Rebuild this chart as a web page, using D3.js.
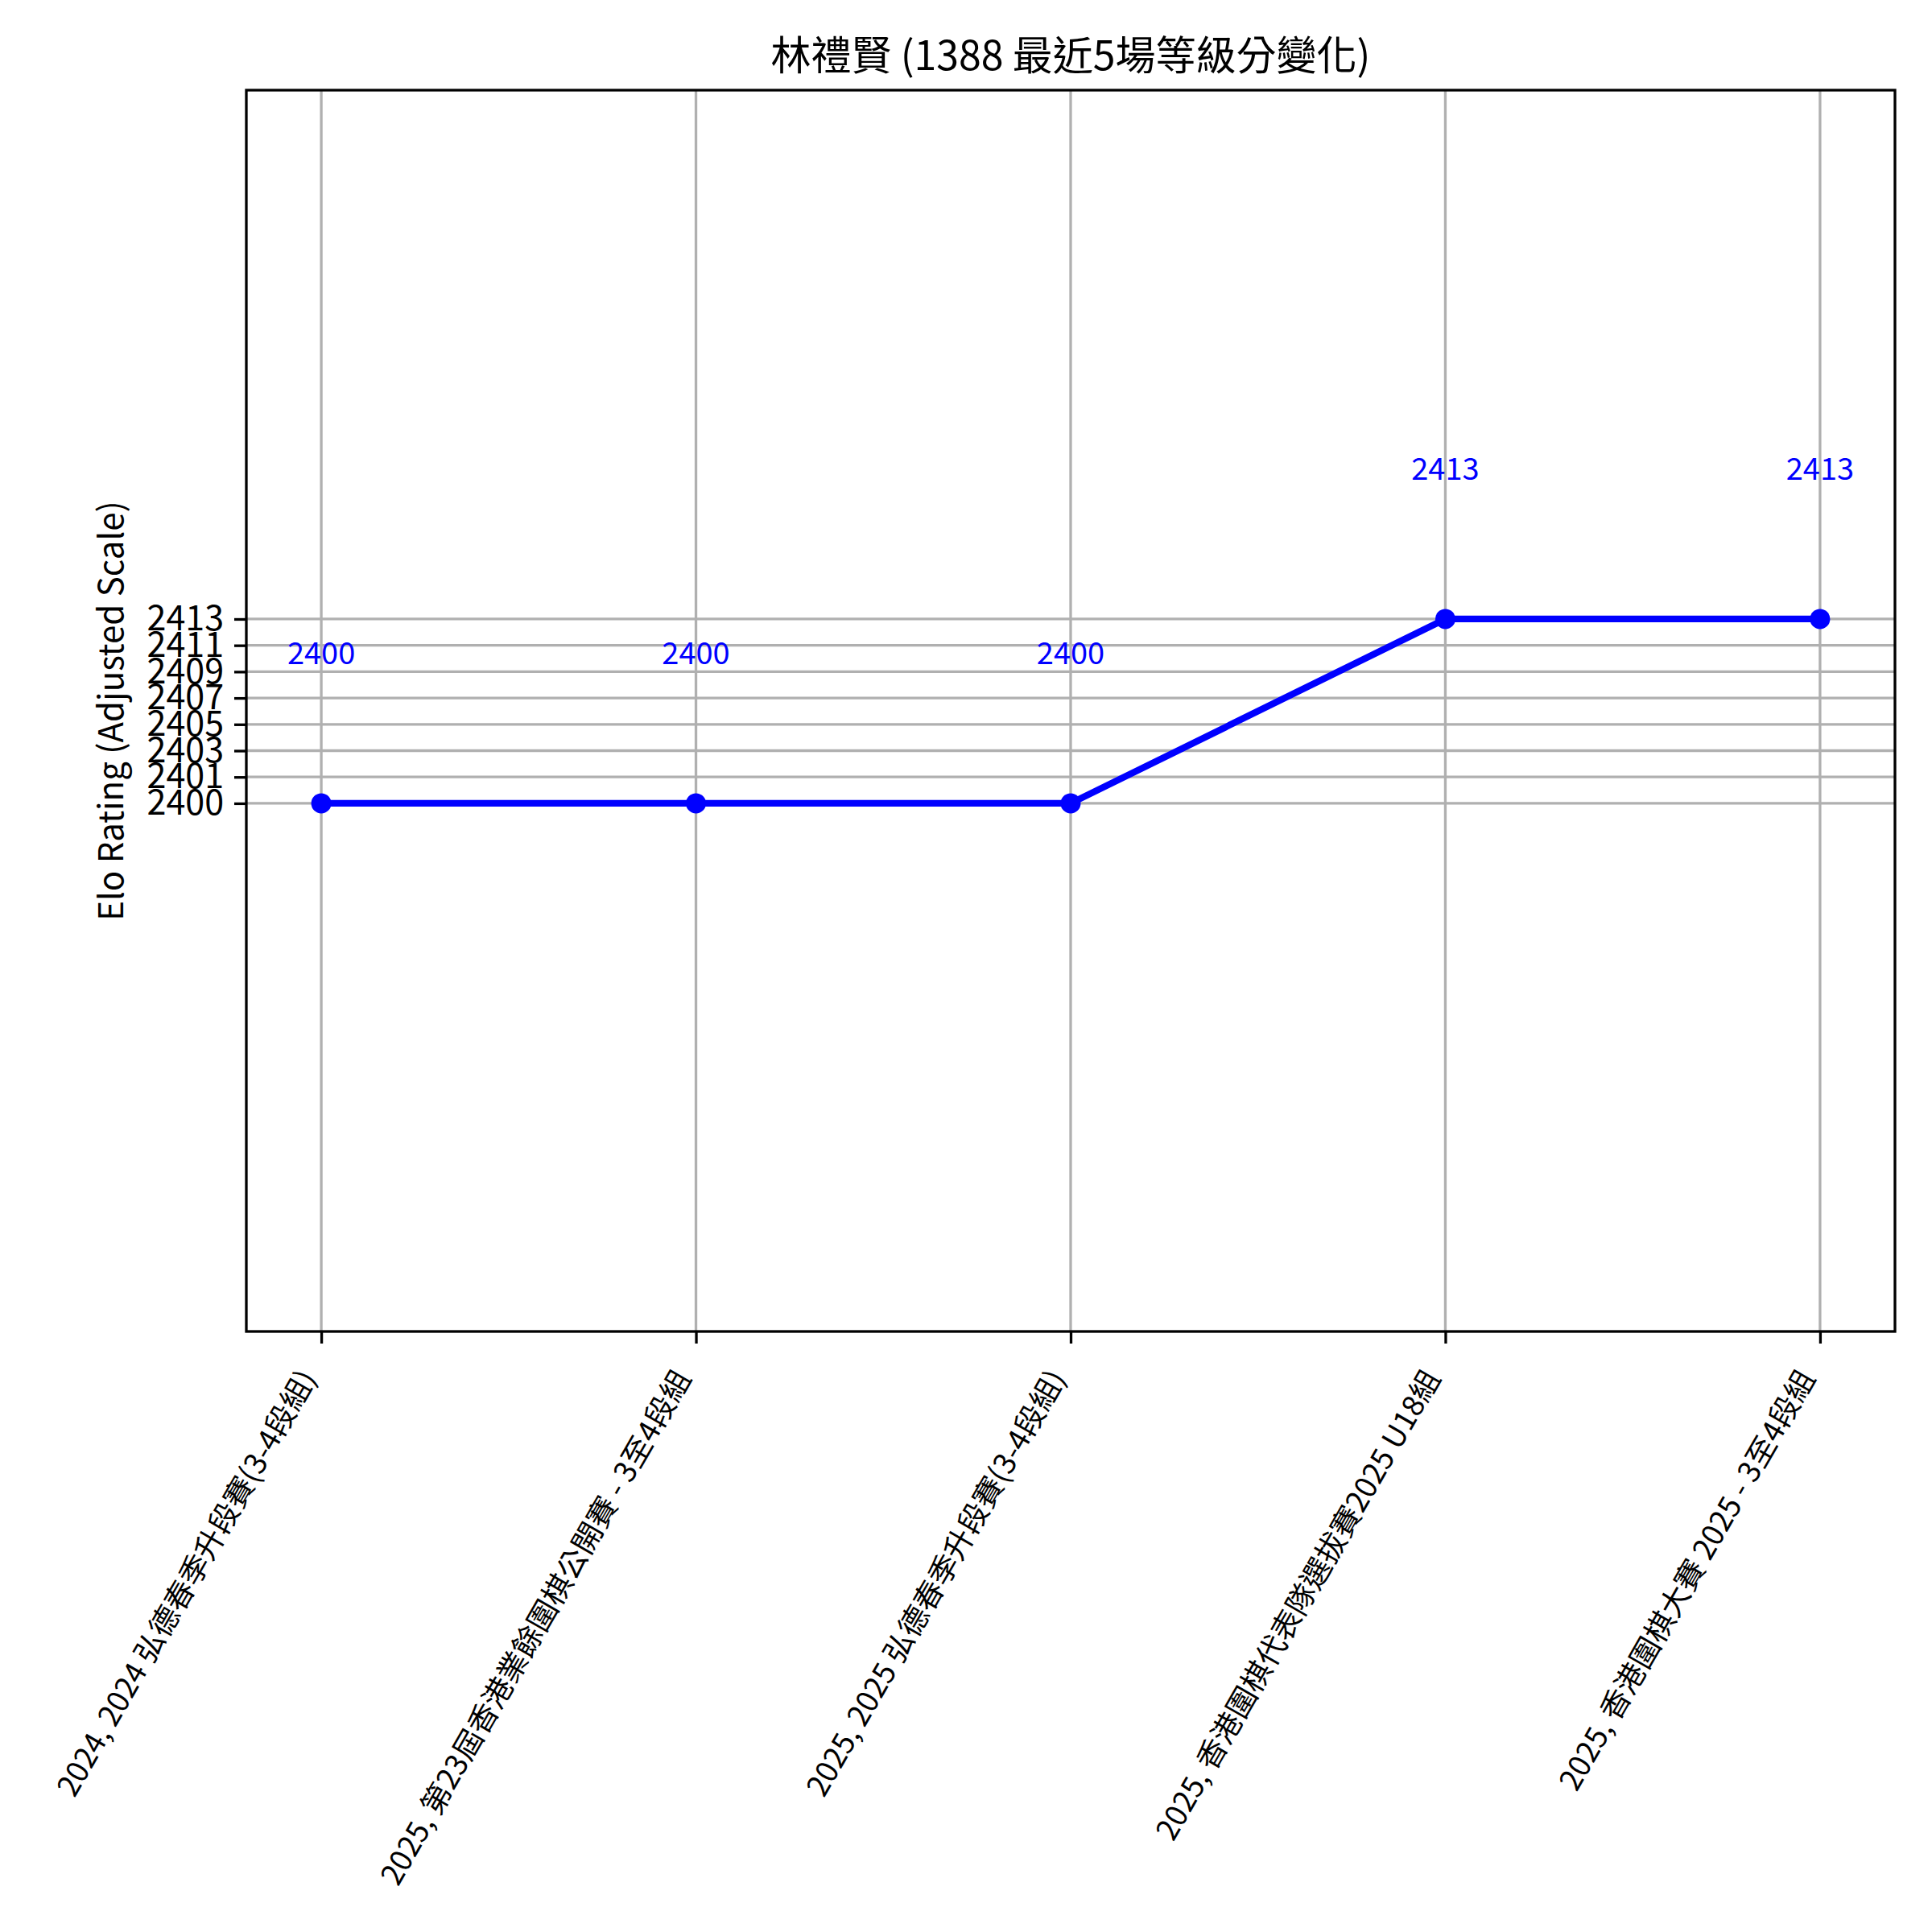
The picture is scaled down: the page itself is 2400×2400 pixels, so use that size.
<!DOCTYPE html>
<html>
<head>
<meta charset="utf-8">
<script src="https://cdn.jsdelivr.net/npm/d3@7"></script>
<style>
  body { margin: 0; background: #fff; }
  text { font-family: "Noto Sans CJK TC", "Noto Sans", sans-serif; }
</style>
</head>
<body>
<script>
// data
const events = [
    "2024, 2024 弘德春季升段賽(3-4段組)",
    "2025, 第23屆香港業餘圍棋公開賽 - 3至4段組",
    "2025, 2025 弘德春季升段賽(3-4段組)",
    "2025, 香港圍棋代表隊選拔賽2025 U18組",
    "2025, 香港圍棋大賽 2025 - 3至4段組"
];
const ratings = [2400, 2400, 2400, 2413, 2413];

// y ticks sit at evenly spaced values, labels are the truncated integers
const yTickValues = [2400, 2401.857, 2403.714, 2405.571, 2407.429, 2409.286, 2411.143, 2413];
const yTickLabels = ["2400", "2401", "2403", "2405", "2407", "2409", "2411", "2413"];

const title = "林禮賢 (1388 最近5場等級分變化)";
const yTitle = "Elo Rating (Adjusted Scale)";

const W = 2400, H = 2400;
const margin = {left: 306, right: 46, top: 112, bottom: 746};
const width = W - margin.left - margin.right;
const height = H - margin.top - margin.bottom;

const svg = d3.select("body")
    .append("svg")
        .attr("width", W)
        .attr("height", H);

const g = svg.append("g")
    .attr("transform", "translate(" + margin.left + "," + margin.top + ")");

const x = d3.scaleLinear()
    .domain([-0.2, events.length - 1 + 0.2])
    .range([0, width]);

const y = d3.scaleLinear()
    .domain([2362.75, 2450.3])
    .range([height, 0]);

const grid = "#b0b0b0";

// grid
g.append("g")
    .selectAll("line")
    .data(d3.range(events.length))
    .enter().append("line")
        .attr("x1", d => x(d)).attr("x2", d => x(d))
        .attr("y1", 0).attr("y2", height)
        .attr("stroke", grid).attr("stroke-width", 3.3);

g.append("g")
    .selectAll("line")
    .data(yTickValues)
    .enter().append("line")
        .attr("x1", 0).attr("x2", width)
        .attr("y1", d => y(d)).attr("y2", d => y(d))
        .attr("stroke", grid).attr("stroke-width", 3.3);

// axes
const bottomAxis = d3.axisBottom(x)
    .tickValues(d3.range(events.length))
    .tickFormat(() => "")
    .tickSize(15)
    .tickSizeOuter(0);

g.append("g")
    .attr("class", "bottom axis")
    .attr("transform", "translate(0," + height + ")")
    .call(bottomAxis)
    .call(a => a.select(".domain").remove())
    .selectAll("line").attr("stroke", "#000").attr("stroke-width", 3.3);

const leftAxis = d3.axisLeft(y)
    .tickValues(yTickValues)
    .tickFormat((d, i) => yTickLabels[i])
    .tickSize(15)
    .tickPadding(13)
    .tickSizeOuter(0);

const ly = g.append("g")
    .attr("class", "left axis")
    .call(leftAxis);
ly.select(".domain").remove();
ly.selectAll("line").attr("stroke", "#000").attr("stroke-width", 3.3);
ly.selectAll("text")
    .attr("font-size", "43px")
    .attr("fill", "#000")
    .attr("font-family", "'Noto Sans CJK TC', sans-serif");

// rotated x labels
g.append("g")
    .selectAll("text")
    .data(events)
    .enter().append("text")
        .attr("transform", (d, i) => "translate(" + (x(i) - 5) + "," + (height + 58) + ") rotate(-60)")
        .attr("text-anchor", "end")
        .attr("font-size", "37px")
        .attr("fill", "#000")
        .text(d => d);

// frame
g.append("rect")
    .attr("width", width).attr("height", height)
    .attr("fill", "none")
    .attr("stroke", "#000")
    .attr("stroke-width", 3.3);

// line and points
const line = d3.line()
    .x((d, i) => x(i))
    .y(d => y(d));

g.append("path")
    .datum(ratings)
    .attr("d", line)
    .attr("fill", "none")
    .attr("stroke", "blue")
    .attr("stroke-width", 8.3);

g.selectAll("circle")
    .data(ratings)
    .enter().append("circle")
        .attr("cx", (d, i) => x(i))
        .attr("cy", d => y(d))
        .attr("r", 12.5)
        .attr("fill", "blue");

g.append("g")
    .selectAll("text")
    .data(ratings)
    .enter().append("text")
        .attr("x", (d, i) => x(i))
        .attr("y", d => y(d + 10) + 3)
        .attr("text-anchor", "middle")
        .attr("font-size", "38px")
        .attr("fill", "blue")
        .text(d => d);

// titles
g.append("text")
    .attr("x", width / 2)
    .attr("y", -25)
    .attr("text-anchor", "middle")
    .attr("font-size", "50px")
    .attr("fill", "#000")
    .text(title);

g.append("text")
    .attr("x", -height / 2)
    .attr("y", -153)
    .attr("transform", "rotate(-90)")
    .attr("text-anchor", "middle")
    .attr("font-size", "42px")
    .attr("fill", "#000")
    .text(yTitle);
</script>
</body>
</html>
